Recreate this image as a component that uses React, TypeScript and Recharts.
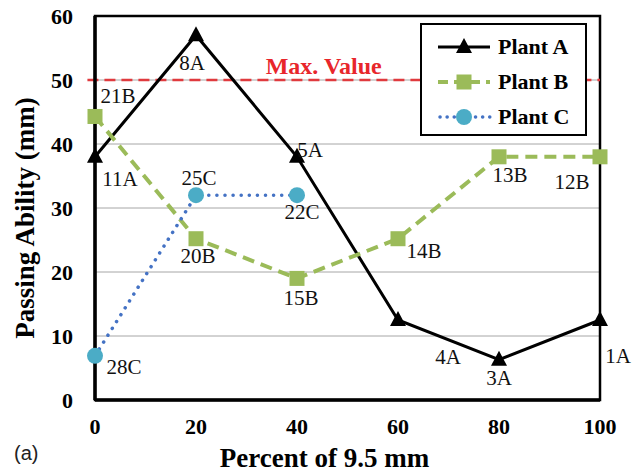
import {
  CartesianGrid,
  Legend,
  LabelList,
  Line,
  LineChart,
  ReferenceArea,
  ReferenceLine,
  XAxis,
  YAxis,
} from 'recharts';

const percents = [0, 20, 40, 60, 80, 100];
const plantA = [38, 57, 38, 12.5, 6.3, 12.5];
const plantB = [44.3, 25.2, 19, 25.2, 38, 38];
const plantC = [6.9, 32, 32];
const labelsA = ['11A', '8A', '5A', '4A', '3A', '1A'];
const labelsB = ['21B', '20B', '15B', '14B', '13B', '12B'];
const labelsC = ['28C', '25C', '22C'];
const yTicks = [0, 10, 20, 30, 40, 50, 60];
const maxValue = 50;

const data = percents.map((x, i) => ({
  x,
  a: plantA[i],
  b: plantB[i],
  c: plantC[i],
  la: labelsA[i],
  lb: labelsB[i],
  lc: labelsC[i],
}));

const serif = '"Liberation Serif", "Times New Roman", serif';
const GREEN = '#9BBB59';
const BLUE = '#4472C4';
const TEAL = '#4BACC6';

// label offsets from each point (dx, dy)
const offA = [[25, 22], [-4, 28], [13, -7], [50, 37], [0, 18], [18, 36]];
const offB = [[23, -20], [2, 17], [4, 20], [26, 12], [11, 18], [-28, 25]];
const offC = [[29, 11], [3, -17], [5, 17]];

const pointLabel = (offs: number[][]) => (p: any) => {
  if (p.value == null || p.x == null || p.y == null) return null;
  const o = offs[p.index] || [0, 0];
  return (
    <text
      x={p.x + o[0]}
      y={p.y + o[1]}
      textAnchor="middle"
      dominantBaseline="central"
      fontFamily="Liberation Serif"
      style={{ fontFamily: serif, fontSize: 21, fill: '#111' }}
    >
      {p.value}
    </text>
  );
};

const Triangle = ({ cx, cy }: any) =>
  cx == null || cy == null ? null : (
    <polygon points={`${cx},${cy - 9} ${cx - 8},${cy + 6} ${cx + 8},${cy + 6}`} fill="#000" />
  );

const Square = ({ cx, cy }: any) =>
  cx == null || cy == null ? null : <rect x={cx - 7.5} y={cy - 7.5} width={15} height={15} fill={GREEN} />;

const Circle = ({ cx, cy }: any) =>
  cx == null || cy == null ? null : <circle cx={cx} cy={cy} r={8} fill={TEAL} />;

const YTitle = ({ viewBox }: any) => {
  const cx = viewBox.x + 25;
  const cy = viewBox.y + viewBox.height / 2 + 10;
  return (
    <text
      transform={`translate(${cx},${cy}) rotate(-90)`}
      textAnchor="middle"
      dominantBaseline="central"
      style={{ fontFamily: serif, fontWeight: 'bold', fontSize: 27, fill: '#000' }}
    >
      Passing Ability (mm)
    </text>
  );
};

function LegendBox() {
  const rows = [
    { name: 'Plant A', line: <line x1={0} x2={52} y1={10} y2={10} stroke="#000" strokeWidth={3} />, mark: <Triangle cx={26} cy={10} /> },
    { name: 'Plant B', line: <line x1={0} x2={52} y1={10} y2={10} stroke={GREEN} strokeWidth={4} strokeDasharray="10 6" />, mark: <Square cx={26} cy={10} /> },
    { name: 'Plant C', line: <line x1={2} x2={52} y1={10} y2={10} stroke={BLUE} strokeWidth={3.5} strokeDasharray="0.1 7" strokeLinecap="round" />, mark: <Circle cx={26} cy={10} /> },
  ];
  return (
    <div
      style={{
        width: 163,
        height: 105,
        border: '2.5px solid #000',
        background: '#fff',
        boxSizing: 'content-box',
        paddingTop: 4,
      }}
    >
      {rows.map((r) => (
        <div key={r.name} style={{ display: 'flex', alignItems: 'center', height: 35, paddingLeft: 16 }}>
          <svg width={54} height={20}>
            {r.line}
            {r.mark}
          </svg>
          <span style={{ fontFamily: serif, fontWeight: 'bold', fontSize: 22, marginLeft: 6, color: '#000' }}>{r.name}</span>
        </div>
      ))}
    </div>
  );
}

export default function App() {
  return (
    <div style={{ position: 'absolute', left: 0, top: 0, width: 637, height: 475, background: '#fff' }}>
      <LineChart width={637} height={475} data={data} margin={{ top: 16, right: 37, bottom: 0, left: 0 }}>
        <CartesianGrid vertical={false} stroke="#a6a6a6" strokeWidth={1} />
        <XAxis
          dataKey="x"
          type="number"
          height={75}
          domain={[0, 100]}
          ticks={percents}
          tickLine={false}
          tickSize={0}
          tickMargin={18}
          axisLine={{ stroke: '#000', strokeWidth: 3.5 }}
          tick={{ fontFamily: serif, fontWeight: 'bold', fontSize: 22, fill: '#000' }}
          label={{
            value: 'Percent of 9.5 mm',
            position: 'insideBottom',
            offset: 8,
            dx: -23,
            style: { fontFamily: serif, fontWeight: 'bold', fontSize: 27, fill: '#000' },
          }}
        />
        <YAxis
          type="number"
          width={95}
          domain={[0, 60]}
          ticks={yTicks}
          tickLine={false}
          tickSize={0}
          tickMargin={22}
          axisLine={{ stroke: '#000', strokeWidth: 3.5 }}
          tick={{ fontFamily: serif, fontWeight: 'bold', fontSize: 22, fill: '#000' }}
          label={<YTitle />}
        />
        <ReferenceArea x1={0} x2={100} y1={0} y2={60} fill="none" stroke="#000" strokeWidth={2.5} ifOverflow="visible" />
        <ReferenceLine
          segment={[{ x: -1.5, y: maxValue }, { x: 100, y: maxValue }]}
          ifOverflow="visible"
          stroke="#E03A3E"
          strokeWidth={2.5}
          strokeDasharray="11 6"
          label={{
            value: 'Max. Value',
            position: 'top',
            offset: 6,
            dx: -20,
            style: { fontFamily: serif, fontWeight: 'bold', fontSize: 24, fill: '#E8262B' },
          }}
        />
        <Line
          dataKey="a"
          stroke="#000"
          strokeWidth={3}
          dot={<Triangle />}
          activeDot={false}
          isAnimationActive={false}
        >
          <LabelList dataKey="la" content={pointLabel(offA)} />
        </Line>
        <Line
          dataKey="b"
          stroke={GREEN}
          strokeWidth={4}
          strokeDasharray="12 7"
          dot={<Square />}
          activeDot={false}
          isAnimationActive={false}
        >
          <LabelList dataKey="lb" content={pointLabel(offB)} />
        </Line>
        <Line
          dataKey="c"
          stroke={BLUE}
          strokeWidth={3.5}
          strokeDasharray="0.1 8"
          strokeLinecap="round"
          dot={<Circle />}
          activeDot={false}
          isAnimationActive={false}
        >
          <LabelList dataKey="lc" content={pointLabel(offC)} />
        </Line>
        <Legend
          layout="vertical"
          align="center"
          verticalAlign="middle"
          content={() => <LegendBox />}
          wrapperStyle={{ left: 420, top: 23, width: 168, height: 110 }}
        />
      </LineChart>
      <div
        style={{
          position: 'absolute',
          left: 14,
          top: 442,
          fontFamily: '"Liberation Sans", Arial, sans-serif',
          fontSize: 20,
          color: '#222',
        }}
      >
        (a)
      </div>
    </div>
  );
}
